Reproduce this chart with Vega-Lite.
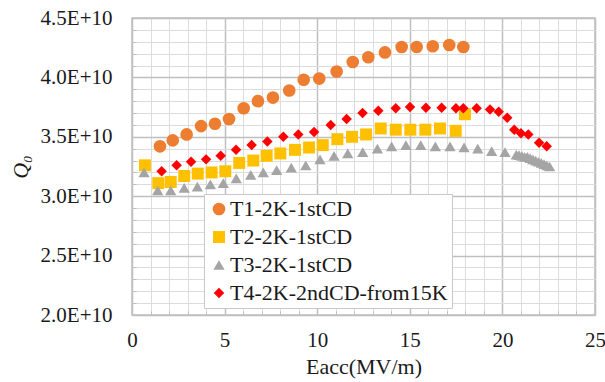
{
  "$schema": "https://vega.github.io/schema/vega-lite/v6.json",
  "width": 463,
  "height": 297,
  "autosize": {"type": "none"},
  "padding": {"left": 132, "top": 18, "right": 10, "bottom": 67},
  "background": "white",
  "config": {
    "font": "Liberation Serif",
    "view": {"stroke": "#bfbfbf", "strokeWidth": 1.5}
  },
  "data": {
    "values": [
      {"s": "T1-2K-1stCD", "x": 1.51, "q": 3.42e10},
      {"s": "T1-2K-1stCD", "x": 2.2, "q": 3.47e10},
      {"s": "T1-2K-1stCD", "x": 2.95, "q": 3.52e10},
      {"s": "T1-2K-1stCD", "x": 3.73, "q": 3.59e10},
      {"s": "T1-2K-1stCD", "x": 4.48, "q": 3.61e10},
      {"s": "T1-2K-1stCD", "x": 5.24, "q": 3.65e10},
      {"s": "T1-2K-1stCD", "x": 6.03, "q": 3.74e10},
      {"s": "T1-2K-1stCD", "x": 6.8, "q": 3.8e10},
      {"s": "T1-2K-1stCD", "x": 7.61, "q": 3.83e10},
      {"s": "T1-2K-1stCD", "x": 8.49, "q": 3.89e10},
      {"s": "T1-2K-1stCD", "x": 9.27, "q": 3.98e10},
      {"s": "T1-2K-1stCD", "x": 10.11, "q": 3.99e10},
      {"s": "T1-2K-1stCD", "x": 11.05, "q": 4.05e10},
      {"s": "T1-2K-1stCD", "x": 11.92, "q": 4.13e10},
      {"s": "T1-2K-1stCD", "x": 12.76, "q": 4.17e10},
      {"s": "T1-2K-1stCD", "x": 13.66, "q": 4.21e10},
      {"s": "T1-2K-1stCD", "x": 14.56, "q": 4.256e10},
      {"s": "T1-2K-1stCD", "x": 15.37, "q": 4.256e10},
      {"s": "T1-2K-1stCD", "x": 16.24, "q": 4.262e10},
      {"s": "T1-2K-1stCD", "x": 17.13, "q": 4.273e10},
      {"s": "T1-2K-1stCD", "x": 17.89, "q": 4.256e10},
      {"s": "T2-2K-1stCD", "x": 0.7, "q": 3.26e10},
      {"s": "T2-2K-1stCD", "x": 1.42, "q": 3.11e10},
      {"s": "T2-2K-1stCD", "x": 2.09, "q": 3.12e10},
      {"s": "T2-2K-1stCD", "x": 2.82, "q": 3.17e10},
      {"s": "T2-2K-1stCD", "x": 3.55, "q": 3.19e10},
      {"s": "T2-2K-1stCD", "x": 4.3, "q": 3.2e10},
      {"s": "T2-2K-1stCD", "x": 5.04, "q": 3.21e10},
      {"s": "T2-2K-1stCD", "x": 5.79, "q": 3.28e10},
      {"s": "T2-2K-1stCD", "x": 6.55, "q": 3.3e10},
      {"s": "T2-2K-1stCD", "x": 7.27, "q": 3.34e10},
      {"s": "T2-2K-1stCD", "x": 8.01, "q": 3.36e10},
      {"s": "T2-2K-1stCD", "x": 8.8, "q": 3.39e10},
      {"s": "T2-2K-1stCD", "x": 9.56, "q": 3.41e10},
      {"s": "T2-2K-1stCD", "x": 10.3, "q": 3.43e10},
      {"s": "T2-2K-1stCD", "x": 11.09, "q": 3.48e10},
      {"s": "T2-2K-1stCD", "x": 11.88, "q": 3.5e10},
      {"s": "T2-2K-1stCD", "x": 12.64, "q": 3.52e10},
      {"s": "T2-2K-1stCD", "x": 13.43, "q": 3.57e10},
      {"s": "T2-2K-1stCD", "x": 14.24, "q": 3.56e10},
      {"s": "T2-2K-1stCD", "x": 15.03, "q": 3.56e10},
      {"s": "T2-2K-1stCD", "x": 15.84, "q": 3.56e10},
      {"s": "T2-2K-1stCD", "x": 16.63, "q": 3.57e10},
      {"s": "T2-2K-1stCD", "x": 17.48, "q": 3.55e10},
      {"s": "T2-2K-1stCD", "x": 17.98, "q": 3.69e10},
      {"s": "T3-2K-1stCD", "x": 0.65, "q": 3.2e10},
      {"s": "T3-2K-1stCD", "x": 1.39, "q": 3.05e10},
      {"s": "T3-2K-1stCD", "x": 2.09, "q": 3.05e10},
      {"s": "T3-2K-1stCD", "x": 2.82, "q": 3.07e10},
      {"s": "T3-2K-1stCD", "x": 3.53, "q": 3.08e10},
      {"s": "T3-2K-1stCD", "x": 4.23, "q": 3.1e10},
      {"s": "T3-2K-1stCD", "x": 4.93, "q": 3.11e10},
      {"s": "T3-2K-1stCD", "x": 5.63, "q": 3.15e10},
      {"s": "T3-2K-1stCD", "x": 6.41, "q": 3.18e10},
      {"s": "T3-2K-1stCD", "x": 7.09, "q": 3.2e10},
      {"s": "T3-2K-1stCD", "x": 7.81, "q": 3.22e10},
      {"s": "T3-2K-1stCD", "x": 8.6, "q": 3.24e10},
      {"s": "T3-2K-1stCD", "x": 9.38, "q": 3.26e10},
      {"s": "T3-2K-1stCD", "x": 10.15, "q": 3.31e10},
      {"s": "T3-2K-1stCD", "x": 10.91, "q": 3.34e10},
      {"s": "T3-2K-1stCD", "x": 11.65, "q": 3.36e10},
      {"s": "T3-2K-1stCD", "x": 12.46, "q": 3.37e10},
      {"s": "T3-2K-1stCD", "x": 13.25, "q": 3.4e10},
      {"s": "T3-2K-1stCD", "x": 14.02, "q": 3.42e10},
      {"s": "T3-2K-1stCD", "x": 14.79, "q": 3.43e10},
      {"s": "T3-2K-1stCD", "x": 15.59, "q": 3.43e10},
      {"s": "T3-2K-1stCD", "x": 16.38, "q": 3.42e10},
      {"s": "T3-2K-1stCD", "x": 17.17, "q": 3.42e10},
      {"s": "T3-2K-1stCD", "x": 17.93, "q": 3.41e10},
      {"s": "T3-2K-1stCD", "x": 18.67, "q": 3.4e10},
      {"s": "T3-2K-1stCD", "x": 19.42, "q": 3.38e10},
      {"s": "T3-2K-1stCD", "x": 20.14, "q": 3.37e10},
      {"s": "T3-2K-1stCD", "x": 20.75, "q": 3.35e10},
      {"s": "T3-2K-1stCD", "x": 20.9, "q": 3.345e10},
      {"s": "T3-2K-1stCD", "x": 21.05, "q": 3.34e10},
      {"s": "T3-2K-1stCD", "x": 21.2, "q": 3.33e10},
      {"s": "T3-2K-1stCD", "x": 21.35, "q": 3.33e10},
      {"s": "T3-2K-1stCD", "x": 21.5, "q": 3.32e10},
      {"s": "T3-2K-1stCD", "x": 21.65, "q": 3.31e10},
      {"s": "T3-2K-1stCD", "x": 21.8, "q": 3.3e10},
      {"s": "T3-2K-1stCD", "x": 21.95, "q": 3.29e10},
      {"s": "T3-2K-1stCD", "x": 22.1, "q": 3.28e10},
      {"s": "T3-2K-1stCD", "x": 22.25, "q": 3.27e10},
      {"s": "T3-2K-1stCD", "x": 22.4, "q": 3.26e10},
      {"s": "T3-2K-1stCD", "x": 22.55, "q": 3.25e10},
      {"s": "T4-2K-2ndCD-from15K", "x": 1.6, "q": 3.21e10},
      {"s": "T4-2K-2ndCD-from15K", "x": 2.41, "q": 3.26e10},
      {"s": "T4-2K-2ndCD-from15K", "x": 3.19, "q": 3.29e10},
      {"s": "T4-2K-2ndCD-from15K", "x": 4.0, "q": 3.31e10},
      {"s": "T4-2K-2ndCD-from15K", "x": 4.79, "q": 3.34e10},
      {"s": "T4-2K-2ndCD-from15K", "x": 5.62, "q": 3.39e10},
      {"s": "T4-2K-2ndCD-from15K", "x": 6.46, "q": 3.43e10},
      {"s": "T4-2K-2ndCD-from15K", "x": 7.31, "q": 3.46e10},
      {"s": "T4-2K-2ndCD-from15K", "x": 8.17, "q": 3.5e10},
      {"s": "T4-2K-2ndCD-from15K", "x": 8.98, "q": 3.52e10},
      {"s": "T4-2K-2ndCD-from15K", "x": 9.83, "q": 3.54e10},
      {"s": "T4-2K-2ndCD-from15K", "x": 10.73, "q": 3.6e10},
      {"s": "T4-2K-2ndCD-from15K", "x": 11.59, "q": 3.65e10},
      {"s": "T4-2K-2ndCD-from15K", "x": 12.45, "q": 3.7e10},
      {"s": "T4-2K-2ndCD-from15K", "x": 13.3, "q": 3.72e10},
      {"s": "T4-2K-2ndCD-from15K", "x": 14.24, "q": 3.74e10},
      {"s": "T4-2K-2ndCD-from15K", "x": 15.01, "q": 3.75e10},
      {"s": "T4-2K-2ndCD-from15K", "x": 15.87, "q": 3.745e10},
      {"s": "T4-2K-2ndCD-from15K", "x": 16.72, "q": 3.745e10},
      {"s": "T4-2K-2ndCD-from15K", "x": 17.49, "q": 3.74e10},
      {"s": "T4-2K-2ndCD-from15K", "x": 17.89, "q": 3.74e10},
      {"s": "T4-2K-2ndCD-from15K", "x": 18.61, "q": 3.74e10},
      {"s": "T4-2K-2ndCD-from15K", "x": 19.33, "q": 3.73e10},
      {"s": "T4-2K-2ndCD-from15K", "x": 19.8, "q": 3.71e10},
      {"s": "T4-2K-2ndCD-from15K", "x": 20.26, "q": 3.66e10},
      {"s": "T4-2K-2ndCD-from15K", "x": 20.64, "q": 3.56e10},
      {"s": "T4-2K-2ndCD-from15K", "x": 21.0, "q": 3.53e10},
      {"s": "T4-2K-2ndCD-from15K", "x": 21.4, "q": 3.52e10},
      {"s": "T4-2K-2ndCD-from15K", "x": 21.98, "q": 3.45e10},
      {"s": "T4-2K-2ndCD-from15K", "x": 22.39, "q": 3.42e10}
    ]
  },
  "layer": [
    {
      "mark": {"type": "point", "opacity": 0},
      "encoding": {
        "x": {
          "field": "x", "type": "quantitative",
          "scale": {"domain": [0, 25], "nice": false, "zero": false},
          "axis": {
            "orient": "bottom", "title": null, "labels": false, "domain": false,
            "values": [1,2,3,4,6,7,8,9,11,12,13,14,16,17,18,19,21,22,23,24],
            "grid": true, "gridColor": "#dcdcdc", "gridWidth": 1,
            "ticks": true, "tickSize": -4, "tickColor": "#bfbfbf"
          }
        },
        "y": {
          "field": "q", "type": "quantitative",
          "scale": {"domain": [2e10, 4.5e10], "nice": false, "zero": false},
          "axis": {
            "orient": "left", "title": null, "labels": false, "domain": false,
            "values": [2.1e10,2.2e10,2.3e10,2.4e10,2.6e10,2.7e10,2.8e10,2.9e10,3.1e10,3.2e10,3.3e10,3.4e10,3.6e10,3.7e10,3.8e10,3.9e10,4.1e10,4.2e10,4.3e10,4.4e10],
            "grid": true, "gridColor": "#dcdcdc", "gridWidth": 1,
            "ticks": true, "tickSize": -4, "tickColor": "#bfbfbf"
          }
        }
      }
    },
    {
      "mark": {"type": "point", "filled": true, "opacity": 1, "strokeWidth": 0},
      "encoding": {
        "x": {
          "field": "x", "type": "quantitative",
          "scale": {"domain": [0, 25], "nice": false, "zero": false},
          "axis": {
            "orient": "bottom", "title": "Eacc(MV/m)", "values": [0, 5, 10, 15, 20, 25],
            "domain": false, "ticks": false, "grid": true, "gridColor": "#bfbfbf", "gridWidth": 1.5,
            "labelFont": "Liberation Serif", "labelFontSize": 21, "labelColor": "#1a1a1a",
            "labelPadding": 14, "labelFlush": false,
            "titleFont": "Liberation Serif", "titleFontSize": 22, "titleFontWeight": "normal",
            "titleColor": "#1a1a1a", "titlePadding": 6
          }
        },
        "y": {
          "field": "q", "type": "quantitative",
          "scale": {"domain": [2e10, 4.5e10], "nice": false, "zero": false},
          "axis": {
            "orient": "left", "title": "Q₀", "values": [2e10, 2.5e10, 3e10, 3.5e10, 4e10, 4.5e10],
            "labelExpr": "format(datum.value / 1e10, '.1f') + 'E+10'",
            "domain": false, "ticks": false, "grid": true, "gridColor": "#bfbfbf", "gridWidth": 1.5,
            "labelFont": "Liberation Serif", "labelFontSize": 21, "labelColor": "#1a1a1a",
            "labelPadding": 20, "labelFlush": false,
            "titleFont": "Liberation Serif", "titleFontSize": 22, "titleFontWeight": "normal",
            "titleFontStyle": "italic", "titleColor": "#1a1a1a", "titlePadding": 8
          }
        },
        "color": {
          "field": "s", "type": "nominal",
          "scale": {
            "domain": ["T1-2K-1stCD", "T2-2K-1stCD", "T3-2K-1stCD", "T4-2K-2ndCD-from15K"],
            "range": ["#ED7D31", "#FFC000", "#A5A5A5", "#FF0000"]
          },
          "legend": {
            "title": null, "orient": "none", "legendX": 72, "legendY": 176,
            "strokeColor": "#c8c8c8", "fillColor": "white", "padding": 4,
            "labelFont": "Liberation Serif", "labelFontSize": 22, "labelColor": "#1a1a1a",
            "labelOffset": 0, "rowPadding": 6, "labelLimit": 400
          }
        },
        "shape": {
          "field": "s", "type": "nominal",
          "scale": {
            "domain": ["T1-2K-1stCD", "T2-2K-1stCD", "T3-2K-1stCD", "T4-2K-2ndCD-from15K"],
            "range": ["circle", "square", "triangle-up", "diamond"]
          }
        },
        "size": {
          "field": "s", "type": "nominal",
          "scale": {
            "domain": ["T1-2K-1stCD", "T2-2K-1stCD", "T3-2K-1stCD", "T4-2K-2ndCD-from15K"],
            "range": [160, 110, 100, 100]
          }
        }
      }
    }
  ],
  "resolve": {"axis": {"x": "independent", "y": "independent"}}
}
